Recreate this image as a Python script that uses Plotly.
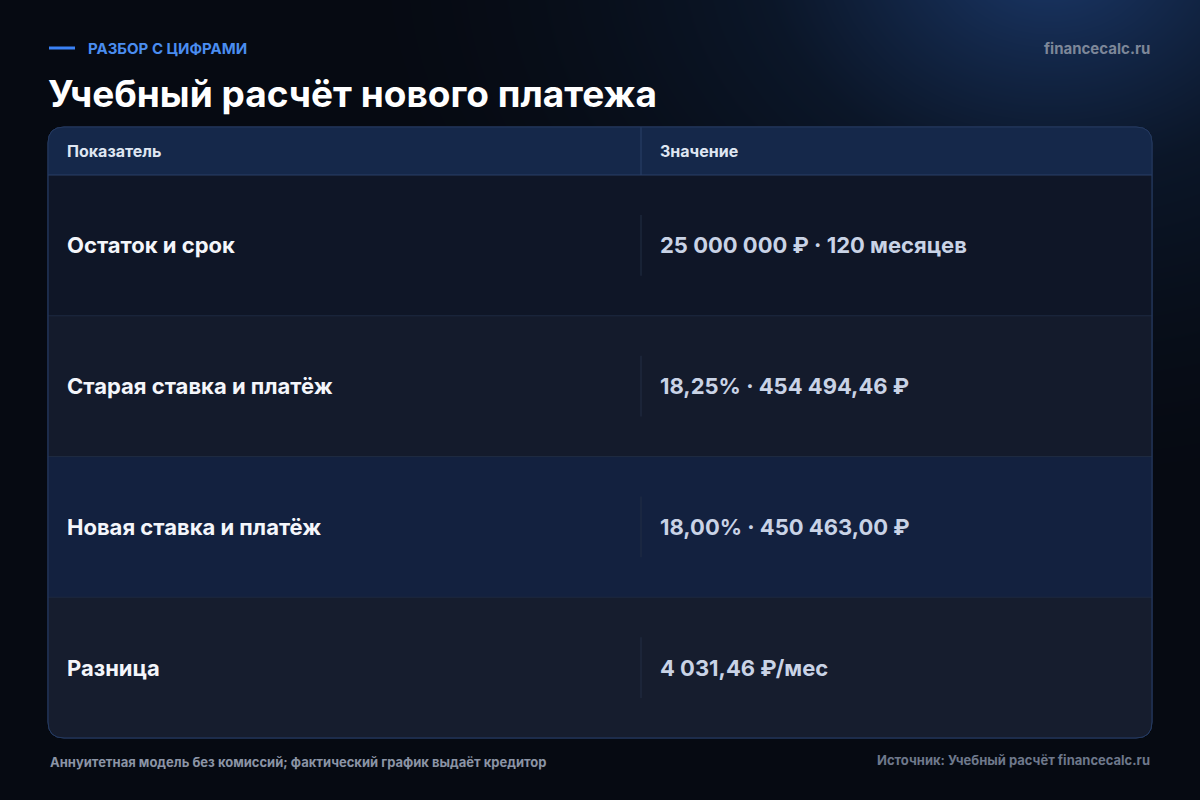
import numpy as np
import plotly.graph_objects as go

W, H = 1200, 800

kicker = "РАЗБОР С ЦИФРАМИ"
title = "Учебный расчёт нового платежа"
site = "financecalc.ru"
headers = ["Показатель", "Значение"]
labels = ["Остаток и срок", "Старая ставка и платёж", "Новая ставка и платёж", "Разница"]
values = ["25 000 000 ₽ · 120 месяцев", "18,25% · 454 494,46 ₽", "18,00% · 450 463,00 ₽", "4 031,46 ₽/мес"]
highlight = [False, False, True, False]
note = "Аннуитетная модель без комиссий; фактический график выдаёт кредитор"
source = "Источник: Учебный расчёт financecalc.ru"

FONT = "Inter, Roboto, sans-serif"
x0, x1, xs = 48, 1152, 641
head_top, head_bot, tab_bot = 127, 175, 738
row_h = (tab_bot - head_bot) / len(labels)

fig = go.Figure()

# background glow (top-right)
gx = np.linspace(0, W, 60)
gy = np.linspace(0, H, 40)
X, Y = np.meshgrid(gx, gy)
d = np.sqrt(((X - 1050) / 700) ** 2 + ((Y + 50) / 550) ** 2)
z = np.clip(1 - d, 0, 1) ** 1.6
fig.add_trace(go.Heatmap(x=gx, y=gy, z=z, zsmooth="best", showscale=False, hoverinfo="skip",
                         colorscale=[[0, "#060a12"], [0.5, "#0b1628"], [1, "#17305a"]]))

def rounded(xa, ya, xb, yb, r, top=True, bottom=True):
    p = f"M{xa+(r if top else 0)},{ya} L{xb-(r if top else 0)},{ya} "
    p += f"Q{xb},{ya} {xb},{ya+r} " if top else ""
    p += f"L{xb},{yb-(r if bottom else 0)} "
    p += f"Q{xb},{yb} {xb-r},{yb} " if bottom else ""
    p += f"L{xa+(r if bottom else 0)},{yb} "
    p += f"Q{xa},{yb} {xa},{yb-r} " if bottom else ""
    p += f"L{xa},{ya+(r if top else 0)} "
    p += f"Q{xa},{ya} {xa+r},{ya} Z" if top else "Z"
    return p

shapes = []
shapes.append(dict(type="path", path=rounded(x0, head_top, x1, tab_bot, 16), fillcolor="#0f1628",
                   line=dict(color="#24395f", width=1)))
shapes.append(dict(type="path", path=rounded(x0, head_top, x1, head_bot, 16, bottom=False),
                   fillcolor="#15284a", line=dict(width=0)))
shapes.append(dict(type="line", x0=xs, x1=xs, y0=head_top, y1=head_bot, line=dict(color="#2a4068", width=1)))
row_fills = ["#0f1627", "#141b2c", "#14223f", "#161d2e"]
for i, lab in enumerate(labels):
    ya = head_bot + i * row_h
    yb = ya + row_h
    last = i == len(labels) - 1
    fill = "#13213f" if highlight[i] else row_fills[i]
    if last:
        shapes.append(dict(type="path", path=rounded(x0 + 0.5, ya, x1 - 0.5, yb - 0.5, 16, top=False),
                           fillcolor=fill, line=dict(width=0)))
    else:
        shapes.append(dict(type="rect", x0=x0 + 0.5, x1=x1 - 0.5, y0=ya, y1=yb, fillcolor=fill,
                           line=dict(width=0)))
    shapes.append(dict(type="line", x0=x0, x1=x1, y0=ya, y1=ya,
                       line=dict(color="#2a3f66" if i == 0 else "#1e2a40", width=1)))
    shapes.append(dict(type="line", x0=xs, x1=xs, y0=ya + 40, y1=yb - 40, line=dict(color="#232f45", width=1)))
shapes.append(dict(type="path", path=rounded(x0, head_top, x1, tab_bot, 16), fillcolor="rgba(0,0,0,0)",
                   line=dict(color="#24395f", width=1)))
shapes.append(dict(type="line", x0=49, x1=75, y0=48, y1=48, line=dict(color="#3b82f6", width=3)))

row_y = [head_bot + (i + 0.5) * row_h for i in range(len(labels))]
ann = []
for lab, val, y in zip(labels, values, row_y):
    ann.append(dict(x=65, y=y, text=f"<b>{lab}</b>", xanchor="left",
                    font=dict(family=FONT, size=22, color="#f4f6fb")))
    ann.append(dict(x=658, y=y, text=f"<b>{val}</b>", xanchor="left",
                    font=dict(family=FONT, size=22, color="#c9d3e6")))
for hx, h in zip([65, 658], headers):
    ann.append(dict(x=hx, y=151, text=f"<b>{h}</b>", xanchor="left",
                    font=dict(family=FONT, size=16, color="#dfe6f2")))

ann += [
    dict(x=86, y=48, text=f"<b>{kicker}</b>", xanchor="left", font=dict(family=FONT, size=15, color="#4a8df0")),
    dict(x=1152, y=48, text=f"<b>{site}</b>", xanchor="right", font=dict(family=FONT, size=15, color="#7d8799")),
    dict(x=46, y=93, text=f"<b>{title}</b>", xanchor="left", font=dict(family=FONT, size=37, color="#ffffff")),
    dict(x=48, y=762, text=f"<b>{note}</b>", xanchor="left", font=dict(family=FONT, size=13, color="#8b94a5")),
    dict(x=1152, y=760, text=f"<b>{source}</b>", xanchor="right", font=dict(family=FONT, size=13, color="#6e788b")),
]
for a in ann:
    a.update(xref="x", yref="y", yanchor="middle", showarrow=False)

fig.update_layout(
    width=W, height=H, margin=dict(l=0, r=0, t=0, b=0),
    paper_bgcolor="#060a12", plot_bgcolor="#060a12",
    showlegend=False, shapes=shapes, annotations=ann,
    xaxis=dict(range=[0, W], visible=False, fixedrange=True),
    yaxis=dict(range=[H, 0], visible=False, fixedrange=True),
)

fig.write_html("out.html", config={"displayModeBar": False},
               post_script="document.body.style.margin='0';document.body.style.background='#060a12';")
